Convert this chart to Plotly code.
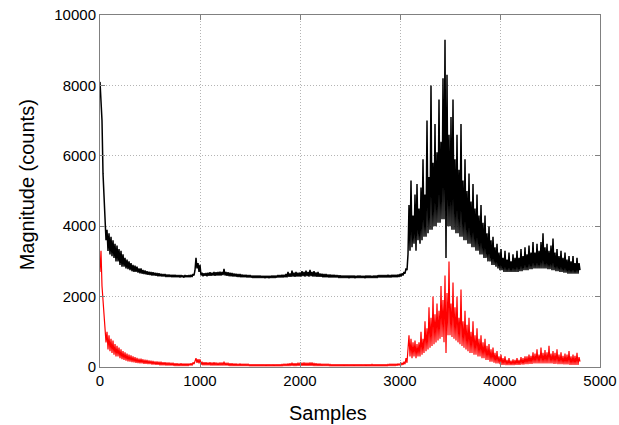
import plotly.graph_objects as go

# Sample index axis (every 10th sample of the 4800-sample record)
samples = list(range(0, 4801, 10))

# Black trace: magnitude (counts)
black_counts = [
    8100, 7600, 7000, 5500, 4800, 4000, 3600, 3900, 3300, 3800, 3200, 3700, 3150, 3600, 3100, 3500, 3000, 3450, 3000, 3350,
    2900, 3300, 2850, 3200, 2850, 3100, 2800, 3050, 2780, 3000, 2750, 2950, 2720, 2900, 2700, 2880, 2700, 2850, 2680, 2800,
    2660, 2800, 2650, 2760, 2640, 2740, 2630, 2720, 2620, 2710, 2610, 2700, 2600, 2690, 2600, 2680, 2590, 2670, 2580, 2660,
    2580, 2650, 2570, 2640, 2570, 2640, 2560, 2630, 2560, 2630, 2560, 2620, 2550, 2620, 2550, 2620, 2550, 2610, 2550, 2610,
    2540, 2610, 2550, 2600, 2540, 2610, 2550, 2600, 2550, 2610, 2550, 2620, 2560, 2640, 2600, 2750, 3100, 2800, 2950, 2700,
    2900, 2600, 2680, 2580, 2660, 2590, 2670, 2580, 2680, 2590, 2690, 2590, 2680, 2600, 2700, 2590, 2690, 2600, 2700, 2600,
    2710, 2600, 2700, 2610, 2790, 2600, 2700, 2590, 2690, 2580, 2680, 2580, 2670, 2570, 2660, 2570, 2650, 2560, 2640, 2560,
    2640, 2550, 2630, 2550, 2620, 2550, 2620, 2540, 2610, 2540, 2610, 2540, 2600, 2530, 2600, 2530, 2600, 2530, 2600, 2530,
    2600, 2530, 2590, 2530, 2590, 2520, 2590, 2530, 2590, 2520, 2590, 2530, 2600, 2530, 2600, 2530, 2600, 2540, 2610, 2540,
    2610, 2540, 2620, 2540, 2620, 2550, 2640, 2550, 2700, 2560, 2660, 2560, 2740, 2570, 2680, 2560, 2700, 2570, 2680, 2570,
    2690, 2570, 2720, 2580, 2700, 2570, 2740, 2580, 2700, 2570, 2760, 2580, 2700, 2570, 2720, 2570, 2690, 2560, 2700, 2560,
    2660, 2560, 2650, 2550, 2640, 2550, 2640, 2550, 2630, 2540, 2630, 2540, 2620, 2540, 2620, 2540, 2610, 2540, 2610, 2530,
    2610, 2530, 2600, 2530, 2600, 2530, 2600, 2530, 2600, 2520, 2600, 2530, 2600, 2530, 2600, 2520, 2590, 2530, 2600, 2530,
    2600, 2530, 2590, 2530, 2590, 2520, 2600, 2530, 2600, 2530, 2600, 2530, 2590, 2530, 2600, 2530, 2600, 2530, 2610, 2540,
    2610, 2540, 2610, 2540, 2610, 2540, 2610, 2540, 2620, 2540, 2610, 2540, 2620, 2550, 2620, 2550, 2620, 2550, 2630, 2560,
    2640, 2570, 2660, 2600, 2700, 2650, 2800, 2750, 3200, 4600, 3300, 5300, 3400, 4300, 3500, 4900, 3300, 5200, 3600, 4500,
    3500, 5100, 3600, 5900, 3700, 4900, 3700, 7000, 3800, 5400, 3900, 8000, 3900, 5800, 4000, 6900, 4000, 6100, 4100, 7600,
    4100, 6400, 4200, 8200, 4200, 9300, 3100, 8300, 4000, 6600, 4000, 7100, 3900, 7600, 3900, 5900, 3800, 6600, 3800, 5600,
    3700, 6900, 3700, 5300, 3600, 5900, 3600, 5000, 3500, 5500, 3500, 4700, 3400, 5200, 3400, 4500, 3300, 4900, 3300, 4300,
    3200, 4600, 3200, 4100, 3100, 4300, 3100, 3800, 3000, 4000, 3000, 3600, 2900, 3700, 2900, 3400, 2850, 3500, 2800, 3250,
    2750, 3350, 2750, 3100, 2700, 3300, 2700, 3050, 2700, 3250, 2700, 3000, 2700, 3200, 2700, 3100, 2700, 3300, 2700, 3100,
    2720, 3350, 2720, 3150, 2750, 3400, 2750, 3200, 2750, 3450, 2780, 3250, 2780, 3550, 2800, 3250, 2800, 3500, 2800, 3300,
    2800, 3550, 2800, 3800, 2800, 3400, 2800, 3500, 2780, 3300, 2780, 3450, 2750, 3650, 2750, 3250, 2720, 3350, 2720, 3150,
    2700, 3300, 2700, 3100, 2680, 3250, 2680, 3050, 2650, 3150, 2650, 3000, 2650, 3150, 2650, 2950, 2650, 3100, 2650, 2950,
    2750,
]

# Red trace: magnitude (counts)
red_counts = [
    2700, 3300, 2300, 1800, 1300, 1100, 700, 1000, 500, 900, 450, 800, 400, 750, 350, 650, 300, 600, 300, 550,
    250, 500, 220, 450, 200, 420, 180, 380, 160, 350, 150, 330, 140, 300, 130, 280, 120, 260, 110, 240,
    100, 240, 100, 220, 90, 210, 90, 200, 80, 190, 80, 180, 70, 170, 70, 160, 60, 160, 60, 150,
    50, 150, 50, 140, 50, 140, 40, 130, 40, 130, 40, 120, 40, 120, 30, 110, 30, 110, 30, 100,
    30, 110, 30, 100, 30, 100, 30, 100, 30, 100, 40, 110, 40, 130, 80, 200, 250, 120, 220, 100,
    220, 60, 150, 50, 140, 50, 140, 50, 130, 50, 140, 40, 130, 40, 140, 40, 130, 40, 120, 40,
    130, 40, 130, 40, 150, 40, 120, 40, 120, 30, 110, 30, 110, 30, 100, 30, 100, 30, 90, 30,
    100, 30, 90, 30, 90, 30, 90, 25, 90, 25, 80, 25, 80, 25, 80, 25, 80, 25, 80, 25,
    80, 25, 80, 25, 80, 20, 75, 25, 80, 25, 80, 20, 80, 25, 75, 20, 80, 25, 80, 25,
    80, 25, 85, 25, 90, 30, 95, 30, 100, 30, 110, 30, 120, 30, 110, 30, 110, 30, 120, 30,
    120, 30, 125, 30, 130, 30, 120, 30, 120, 30, 130, 30, 130, 30, 115, 30, 110, 30, 100, 30,
    100, 25, 95, 25, 90, 25, 90, 25, 90, 25, 85, 25, 80, 25, 80, 25, 80, 25, 80, 25,
    80, 25, 80, 25, 75, 25, 80, 25, 80, 20, 80, 25, 80, 25, 75, 25, 80, 25, 80, 25,
    80, 25, 80, 20, 80, 25, 75, 25, 80, 25, 80, 25, 85, 25, 80, 25, 80, 25, 80, 25,
    80, 25, 80, 25, 80, 25, 80, 25, 85, 30, 90, 30, 90, 30, 90, 30, 95, 35, 100, 40,
    100, 50, 120, 60, 150, 80, 250, 120, 600, 900, 300, 800, 250, 700, 300, 750, 250, 650, 300, 700,
    300, 1000, 350, 800, 400, 1300, 450, 1100, 500, 1700, 550, 1400, 600, 2000, 650, 1500, 700, 1800, 750, 1600,
    800, 2300, 850, 1900, 700, 2600, 400, 2100, 900, 3000, 900, 1800, 850, 2400, 800, 1700, 750, 2000, 700, 1400,
    650, 2200, 600, 1300, 550, 1600, 500, 1200, 450, 1400, 400, 1000, 400, 1300, 350, 900, 350, 1100, 300, 800,
    300, 900, 250, 700, 250, 800, 200, 600, 200, 650, 150, 500, 150, 550, 120, 400, 100, 450, 100, 300,
    80, 350, 60, 250, 60, 300, 50, 200, 50, 250, 50, 180, 50, 220, 50, 200, 60, 250, 60, 200,
    60, 280, 70, 250, 70, 300, 80, 300, 80, 350, 90, 320, 90, 420, 100, 380, 100, 500, 100, 350,
    100, 550, 100, 400, 100, 480, 100, 420, 100, 600, 100, 380, 100, 450, 90, 400, 90, 500, 80, 350,
    80, 420, 80, 320, 70, 380, 70, 350, 70, 450, 60, 300, 60, 350, 60, 320, 60, 400, 60, 280,
    150,
]

x_ticks = [0, 1000, 2000, 3000, 4000, 5000]
x_tick_labels = ["0", "1000", "2000", "3000", "4000", "5000"]
y_ticks = [0, 2000, 4000, 6000, 8000, 10000]
y_tick_labels = ["0", "2000", "4000", "6000", "8000", "10000"]
x_title = "Samples"
y_title = "Magnitude (counts)"

FONT = "Liberation Sans, Arial, sans-serif"

fig = go.Figure()
fig.add_trace(go.Scatter(x=samples, y=black_counts, mode="lines",
                         line=dict(color="black", width=1.5), showlegend=False))
fig.add_trace(go.Scatter(x=samples, y=red_counts, mode="lines",
                         line=dict(color="#ff0000", width=1.2), showlegend=False))

axis_common = dict(
    showline=True, linecolor="#808080", linewidth=1, mirror="ticks",
    ticks="inside", ticklen=5, tickcolor="#808080",
    showgrid=True, gridcolor="#b4b4b4", griddash="1px,2px", gridwidth=1,
    zeroline=False, automargin=False, ticklabeloverflow="allow",
    tickfont=dict(family=FONT, size=15, color="black"),
)

fig.update_layout(
    width=619, height=425,
    margin=dict(l=100, r=19, t=15, b=58),
    paper_bgcolor="white", plot_bgcolor="white",
    font=dict(family=FONT, color="black"),
    xaxis=dict(range=[0, 5000], tickvals=x_ticks, ticktext=x_tick_labels, **axis_common),
    yaxis=dict(range=[0, 10000], tickvals=y_ticks, ticktext=y_tick_labels, **axis_common),
    annotations=[
        dict(text=x_title, xref="paper", yref="paper", x=0.456, y=-0.131,
             xanchor="center", yanchor="middle", showarrow=False,
             font=dict(family=FONT, size=20, color="black")),
        dict(text=y_title, xref="paper", yref="paper", x=-0.146, y=0.516,
             xanchor="center", yanchor="middle", showarrow=False, textangle=-90,
             font=dict(family=FONT, size=20, color="black")),
    ],
)

# Remove the default page margin so the figure fills the 619x425 window
fig.write_html("out.html", config={"displayModeBar": False},
               post_script="document.body.style.margin='0';")
